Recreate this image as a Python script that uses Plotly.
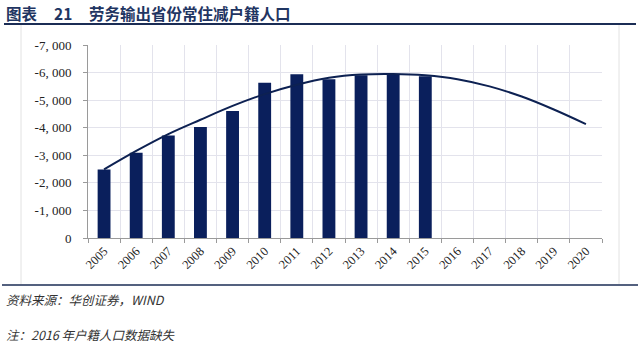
import plotly.graph_objects as go

# Years on the category axis
years = [str(y) for y in range(2005, 2021)]

# Resident minus registered population in labour-exporting provinces (10k persons)
bar_years = years[:11]
bar_values = [-2480, -3090, -3720, -4030, -4610, -5630, -5940, -5760, -5900, -5940, -5870]

# Trend curve, 2005-2020
trend_values = [-2490, -3160, -3770, -4290, -4790, -5220, -5560, -5810, -5930,
                -5950, -5900, -5760, -5500, -5130, -4660, -4130]

# Y-axis ticks
y_ticks = [0, -1000, -2000, -3000, -4000, -5000, -6000, -7000]
y_tick_text = ["0", "-1, 000", "-2, 000", "-3, 000", "-4, 000", "-5, 000", "-6, 000", "-7, 000"]

navy = "#0a1f5c"

fig = go.Figure()
fig.add_trace(go.Bar(
    x=bar_years, y=bar_values, width=0.4,
    marker=dict(color=navy, line=dict(width=0)),
    showlegend=False, hoverinfo="x+y",
))
fig.add_trace(go.Scatter(
    x=years, y=trend_values, mode="lines",
    line=dict(color="#0d2152", width=2, shape="spline", smoothing=1.0),
    showlegend=False,
))

# Plot area: x 88..602 px, y 45..238 px
L, R, T, B = 88, 602, 45, 238
W, H = R - L, B - T


def px(xp):
    return (xp - L) / W


def py(yp):
    return (B - yp) / H


fig.update_layout(
    width=640, height=344,
    margin=dict(l=L, r=640 - R, t=T, b=344 - B, pad=0),
    paper_bgcolor="white", plot_bgcolor="white",
    bargap=0.6,
    font=dict(family="Liberation Serif, serif", color="#222"),
    xaxis=dict(
        type="category", categoryorder="array", categoryarray=years,
        range=[-0.5, 15.5],
        tickson="boundaries", ticks="outside", ticklen=4, tickcolor="#9a9a9a",
        showgrid=True, gridcolor="#e3e3ec", gridwidth=1,
        showline=True, linecolor="#9a9a9a", linewidth=1,
        tickangle=-45, tickfont=dict(family="Liberation Serif, serif", size=12.5, color="#222"),
    ),
    yaxis=dict(
        range=[0, -7000], tickvals=y_ticks, ticktext=y_tick_text,
        ticks="outside", ticklen=4, tickcolor="#9a9a9a",
        showgrid=True, gridcolor="#e3e3ec", gridwidth=1, zeroline=False,
        showline=True, linecolor="#9a9a9a", linewidth=1,
        ticklabelstandoff=9,
        tickfont=dict(family="Liberation Serif, serif", size=13, color="#222"),
    ),
)

# Frame: title rule, bottom rule and light side lines
fig.add_shape(type="line", xref="paper", yref="paper",
              x0=px(4), x1=px(636), y0=py(24), y1=py(24),
              line=dict(color="#1b2d55", width=2))
fig.add_shape(type="line", xref="paper", yref="paper",
              x0=px(2), x1=px(638), y0=py(285), y1=py(285),
              line=dict(color="#1b2d55", width=1.5))
fig.add_shape(type="line", xref="paper", yref="paper",
              x0=px(21), x1=px(21), y0=py(25), y1=py(284),
              line=dict(color="#e2e2e2", width=1))
fig.add_shape(type="line", xref="paper", yref="paper",
              x0=px(619), x1=px(619), y0=py(25), y1=py(284),
              line=dict(color="#e2e2e2", width=1))

title_font = dict(family="Noto Sans CJK SC", size=15.5, color="#1f3562")
fig.add_annotation(text="<b>图表</b>", xref="paper", yref="paper",
                   x=px(4), y=py(13), xanchor="left", yanchor="middle",
                   showarrow=False, font=title_font)
fig.add_annotation(text="<b>21</b>", xref="paper", yref="paper",
                   x=px(52), y=py(13), xanchor="left", yanchor="middle",
                   showarrow=False, font=title_font)
fig.add_annotation(text="<b>劳务输出省份常住减户籍人口</b>", xref="paper", yref="paper",
                   x=px(87), y=py(13), xanchor="left", yanchor="middle",
                   showarrow=False, font=title_font)

note_font = dict(family="Noto Sans CJK SC", size=12.5, color="#333")
fig.add_annotation(text="<i>资料来源：华创证券，WIND</i>", xref="paper", yref="paper",
                   x=px(4), y=py(299), xanchor="left", yanchor="middle",
                   showarrow=False, font=note_font)
fig.add_annotation(text="<i>注：2016 年户籍人口数据缺失</i>", xref="paper", yref="paper",
                   x=px(4), y=py(334), xanchor="left", yanchor="middle",
                   showarrow=False, font=note_font)

fig.write_html("out.html")
